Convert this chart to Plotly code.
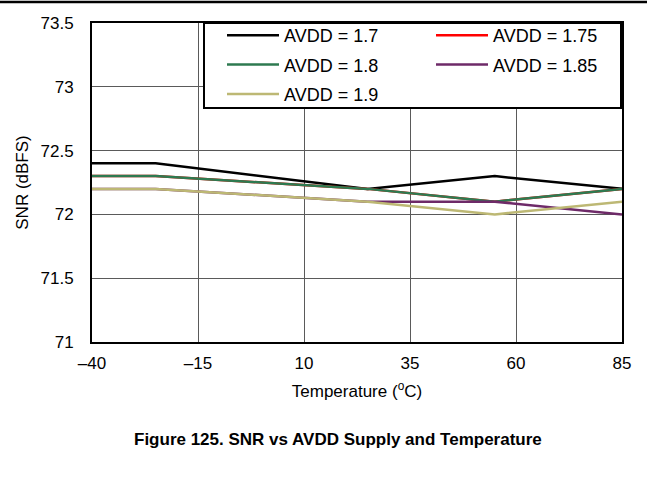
import plotly.graph_objects as go

temperature = [-40, -25, 25, 55, 85]
snr_1p7 = [72.4, 72.4, 72.2, 72.3, 72.2]
snr_1p75 = [72.3, 72.3, 72.2, 72.1, 72.2]
snr_1p8 = [72.3, 72.3, 72.2, 72.1, 72.2]
snr_1p85 = [72.2, 72.2, 72.1, 72.1, 72.0]
snr_1p9 = [72.2, 72.2, 72.1, 72.0, 72.1]

series_names = ["AVDD = 1.7", "AVDD = 1.75", "AVDD = 1.8", "AVDD = 1.85", "AVDD = 1.9"]
series_values = [snr_1p7, snr_1p75, snr_1p8, snr_1p85, snr_1p9]
series_colors = ["#000000", "#FF0000", "#2E7A50", "#6E2A68", "#BDB874"]
legend_ids = ["legend", "legend2", "legend", "legend2", "legend"]

x_tickvals = [-40, -15, 10, 35, 60, 85]
x_ticktext = ["\u201340", "\u201315", "10", "35", "60", "85"]
y_tickvals = [71, 71.5, 72, 72.5, 73, 73.5]
y_ticktext = ["71", "71.5", "72", "72.5", "73", "73.5"]

W, H = 647, 487
L, R, T, B = 92, 25, 23, 145
pw, ph = W - L - R, H - T - B

def px(x):
    return (x - L) / pw

def py(y):
    return (H - B - y) / ph

FAM = "Liberation Sans, Arial, sans-serif"
font = dict(family=FAM, size=17, color="#000000")
legend_font = dict(family=FAM, size=18, color="#000000")

fig = go.Figure()
for name, vals, col, lg in zip(series_names, series_values, series_colors, legend_ids):
    fig.add_trace(go.Scatter(x=temperature, y=vals, mode="lines", name=name,
                             legendgroup=name,
                             line=dict(color=col, width=2.5), legend=lg))

fig.update_layout(
    width=W, height=H,
    margin=dict(l=L, r=R, t=T, b=B),
    paper_bgcolor="white", plot_bgcolor="white",
    font=font,
    xaxis=dict(range=[-40, 85], tickvals=x_tickvals, ticktext=x_ticktext,
               showgrid=True, gridcolor="#5a5a5a", gridwidth=1,
               showline=True, linecolor="black", linewidth=2, mirror=True,
               ticks="", zeroline=False, ticklabelstandoff=5,
               title=dict(text="Temperature (<sup>o</sup>C)", font=dict(size=17), standoff=13)),
    yaxis=dict(range=[71, 73.5], tickvals=y_tickvals, ticktext=y_ticktext,
               showgrid=True, gridcolor="#5a5a5a", gridwidth=1,
               showline=True, linecolor="black", linewidth=2, mirror=True,
               ticks="", zeroline=False, ticklabelstandoff=13,
               title=dict(text="SNR (dBFS)", font=dict(size=17), standoff=8)),
    legend=dict(x=px(222), y=py(17), xanchor="left", yanchor="top",
                bgcolor="rgba(0,0,0,0)", borderwidth=0, itemwidth=52,
                tracegroupgap=3, font=legend_font),
    legend2=dict(x=px(431), y=py(17), xanchor="left", yanchor="top",
                 bgcolor="rgba(0,0,0,0)", borderwidth=0, itemwidth=52,
                 tracegroupgap=3, font=legend_font),
    showlegend=True,
)

# legend frame
fig.add_shape(type="rect", xref="paper", yref="paper",
              x0=px(204), x1=px(621), y0=py(108), y1=py(23),
              line=dict(color="black", width=2), fillcolor="white", layer="above")
# top header rule
fig.add_shape(type="line", xref="paper", yref="paper",
              x0=px(0), x1=px(W), y0=py(2), y1=py(2),
              line=dict(color="black", width=2.5))

fig.add_annotation(text="<b>Figure 125. SNR vs AVDD Supply and Temperature</b>",
                   xref="paper", yref="paper", x=px(338), y=py(439),
                   showarrow=False, font=dict(size=17, family=FAM),
                   xanchor="center", yanchor="middle")

fig.write_html("out.html", config={"displayModeBar": False},
               post_script="document.body.style.margin='0';document.body.style.overflow='hidden';")
